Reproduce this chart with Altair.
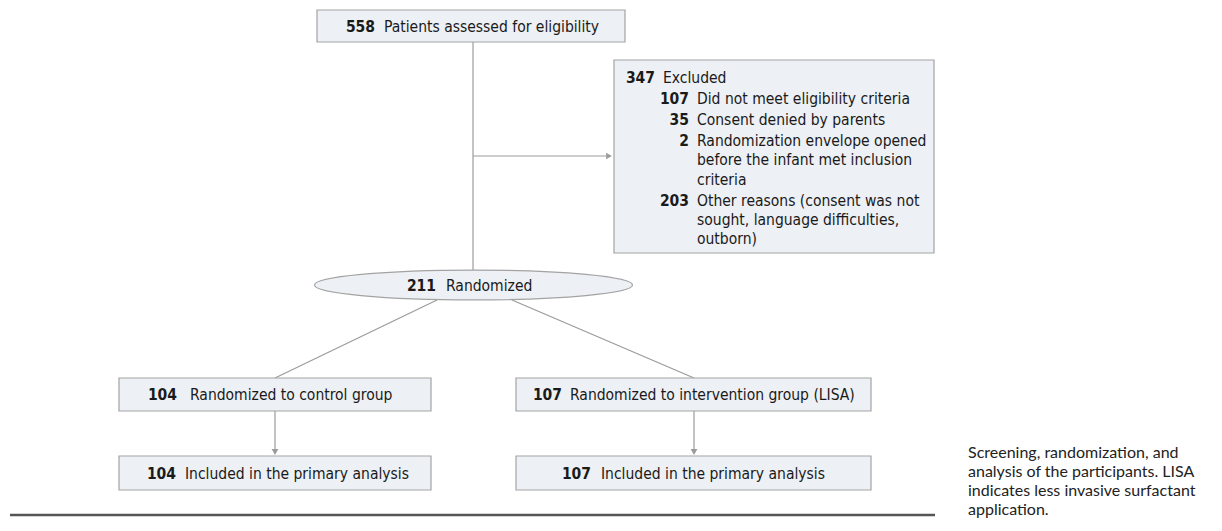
import altair as alt
import pandas as pd

# ---------------- data (counts and texts) ----------------
screened_count = 558
screened_label = "Patients assessed for eligibility"

excluded_counts = [347, 107, 35, 2, 203]
excluded_labels = [
    ["Excluded"],
    ["Did not meet eligibility criteria"],
    ["Consent denied by parents"],
    ["Randomization envelope opened", "before the infant met inclusion", "criteria"],
    ["Other reasons (consent was not", "sought, language difficulties,", "outborn)"],
]

randomized_count = 211
randomized_label = "Randomized"

group_counts = [104, 107]
group_labels = ["Randomized to control group", "Randomized to intervention group (LISA)"]

analysis_counts = [104, 107]
analysis_labels = ["Included in the primary analysis", "Included in the primary analysis"]

caption_lines = [
    "Screening, randomization, and",
    "analysis of the participants. LISA",
    "indicates less invasive surfactant",
    "application.",
]

# ---------------- layout (page pixel coordinates) ----------------
FONT = "Liberation Sans Narrow, DejaVu Sans Condensed, Roboto, sans-serif"
FILL = "#edf0f4"
EDGE = "#a3a3a3"
LINE = "#9b9b9b"

box_x = [317, 614, 119, 516, 119, 516]
box_x2 = [625, 934, 431, 871, 431, 871]
box_y = [10, 60, 378, 378, 456, 456]
box_y2 = [42, 253, 411, 411, 490, 490]
boxes = pd.DataFrame({"x": box_x, "x2": box_x2, "y": box_y, "y2": box_y2})

# numbers (right-aligned) and labels (left-aligned)
num_rows, lab_rows = [], []
num_rows.append({"x": 375, "y": 27, "t": str(screened_count)})
lab_rows.append({"x": 384, "y": 27, "t": screened_label})

ex_num_x = [655, 689, 689, 689, 689]
ex_lab_x = [663, 697, 697, 697, 697]
ex_line_y = [[78], [98.5], [119.5], [140.5, 160, 179.5], [200.5, 219.5, 239]]
for c, labs, nx, lx, ys in zip(excluded_counts, excluded_labels, ex_num_x, ex_lab_x, ex_line_y):
    num_rows.append({"x": nx, "y": ys[0], "t": str(c)})
    for lab, yy in zip(labs, ys):
        lab_rows.append({"x": lx, "y": yy, "t": lab})

num_rows.append({"x": 436, "y": 285.5, "t": str(randomized_count)})
lab_rows.append({"x": 446, "y": 285.5, "t": randomized_label})

grp_num_x = [177, 562]
grp_lab_x = [190, 570]
for c, lab, nx, lx in zip(group_counts, group_labels, grp_num_x, grp_lab_x):
    num_rows.append({"x": nx, "y": 395, "t": str(c)})
    lab_rows.append({"x": lx, "y": 395, "t": lab})

ana_num_x = [176, 591]
ana_lab_x = [185, 601]
for c, lab, nx, lx in zip(analysis_counts, analysis_labels, ana_num_x, ana_lab_x):
    num_rows.append({"x": nx, "y": 473.5, "t": str(c)})
    lab_rows.append({"x": lx, "y": 473.5, "t": lab})

nums = pd.DataFrame(num_rows)
labs = pd.DataFrame(lab_rows)

connectors = pd.DataFrame({
    "x":  [473, 473, 437, 512, 275, 694],
    "y":  [42, 156, 300, 300, 411, 411],
    "x2": [473, 606, 275, 694, 275, 694],
    "y2": [270, 156, 378, 378, 450, 450],
})

heads_right = pd.DataFrame({"x": [609], "y": [156]})
heads_down = pd.DataFrame({"x": [275, 694], "y": [452, 452]})

ellipse = pd.DataFrame({"x": [473.5], "y": [285]})
ELLIPSE_W = 318
ELLIPSE_PATH = "M -1 0 A 1 0.094 0 1 1 1 0 A 1 0.094 0 1 1 -1 0 Z"

rule_df = pd.DataFrame({"x": [10], "x2": [935], "y": [515], "y2": [515]})

caption = pd.DataFrame({"x": [968] * 4, "y": [453, 472, 491, 510], "t": caption_lines})

# ---------------- chart ----------------
xs = alt.Scale(domain=[8, 1214], nice=False, zero=False)
ys = alt.Scale(domain=[8, 523], nice=False, zero=False, reverse=True)
X = alt.X("x:Q", scale=xs, axis=None)
Y = alt.Y("y:Q", scale=ys, axis=None)

lines_layer = alt.Chart(connectors).mark_rule(color=LINE, strokeWidth=1.2).encode(
    x=X, y=Y, x2="x2:Q", y2="y2:Q")

box_layer = alt.Chart(boxes).mark_rect(fill=FILL, stroke=EDGE, strokeWidth=1.2).encode(
    x=X, y=Y, x2="x2:Q", y2="y2:Q")

ellipse_layer = alt.Chart(ellipse).mark_point(
    shape=ELLIPSE_PATH, size=ELLIPSE_W ** 2, filled=True, fill=FILL,
    stroke=EDGE, strokeWidth=1.2, opacity=1).encode(x=X, y=Y)

right_heads = alt.Chart(heads_right).mark_point(
    shape="triangle-right", size=45, filled=True, color=LINE, opacity=1).encode(x=X, y=Y)
down_heads = alt.Chart(heads_down).mark_point(
    shape="triangle-down", size=45, filled=True, color=LINE, opacity=1).encode(x=X, y=Y)

num_layer = alt.Chart(nums).mark_text(
    align="right", baseline="middle", font=FONT, fontSize=15.5, fontWeight="bold",
    color="#1a1a1a").encode(x=X, y=Y, text="t:N")
lab_layer = alt.Chart(labs).mark_text(
    align="left", baseline="middle", font=FONT, fontSize=15.5, color="#1a1a1a").encode(
    x=X, y=Y, text="t:N")

bottom_rule = alt.Chart(rule_df).mark_rule(color="#555555", strokeWidth=2.5).encode(
    x=X, y=Y, x2="x2:Q", y2="y2:Q")

caption_layer = alt.Chart(caption).mark_text(
    align="left", baseline="middle", font="Lato, Open Sans, sans-serif", fontSize=16,
    color="#222222").encode(x=X, y=Y, text="t:N")

chart = alt.layer(
    lines_layer, box_layer, ellipse_layer, right_heads, down_heads,
    num_layer, lab_layer, bottom_rule, caption_layer
).properties(width=1206, height=515, padding=0, autosize=alt.AutoSizeParams(type="none")
).configure_view(stroke=None)

chart.save("out.html", embed_options={"renderer": "svg", "actions": False})
